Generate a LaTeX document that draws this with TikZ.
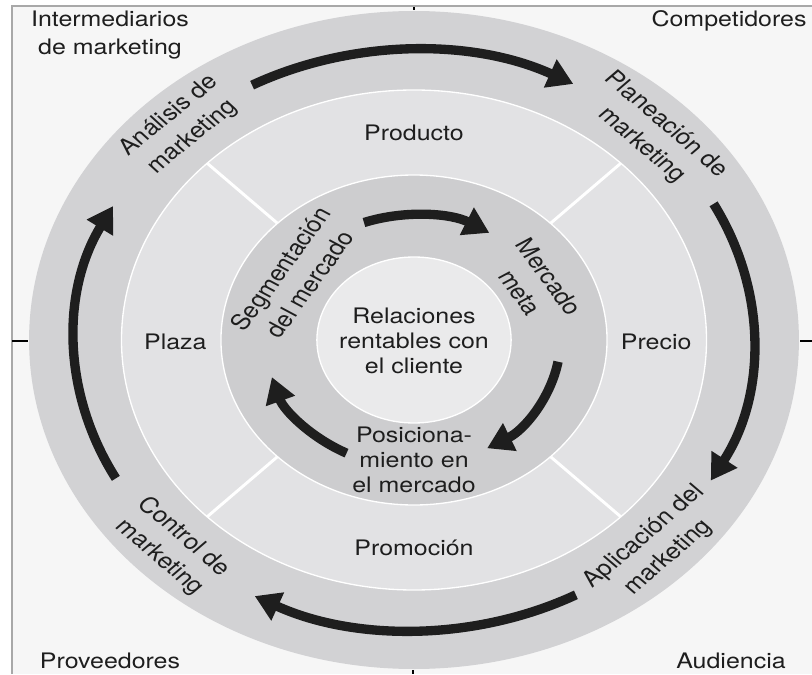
\documentclass[tikz,border=0pt]{standalone}
\usepackage{fontspec}
\setmainfont{TeX Gyre Heros}
\usepackage{tikz}
\usetikzlibrary{arrows.meta}

\definecolor{fondo}{HTML}{F6F6F6}
\definecolor{anillo}{HTML}{D2D2D4}
\definecolor{interior}{HTML}{CDCDCF}
\definecolor{banda}{HTML}{E2E2E4}
\definecolor{nucleo}{HTML}{EAEAEB}
\definecolor{marco}{HTML}{A8A8A8}
\definecolor{tinta}{HTML}{1E1E1E}

\tikzset{
  texto/.style={font=\fontsize{16}{19}\selectfont, align=center, text=tinta, inner sep=0pt},
  giro/.style={texto, font=\fontsize{16.5}{22}\selectfont},
  esquina/.style={texto, font=\fontsize{16}{21}\selectfont, xscale=1.17},
  flecha/.style={line width=7pt, tinta, -{Triangle[length=19pt,width=22pt]}},
  divisor/.style={white, line width=2.2pt},
  borde/.style={white, line width=1pt},
}

\begin{document}
\begin{tikzpicture}[x=0.75pt,y=0.75pt]
    \useasboundingbox (-414,340) rectangle (398,-334);
    \fill[fondo] (-402,334) rectangle (398,-334);
    \draw[marco, line width=1.2pt] (-402,-334) -- (-402,334) -- (398,334);
    % marcas de corte
    \draw[line width=1.4pt] (-402,-1) -- (-386,-1);
    \draw[line width=1.4pt] (386,-1) -- (398,-1);
    \draw[line width=1pt] (0,333) -- (0,330);
    \draw[line width=1pt] (-1,-330) -- (-1,-334);

    \node[esquina] (intermediarios) at (-304,304.5) {Intermediarios\\de marketing};
    \node[esquina, anchor=base] (competidores) at (315,313) {Competidores};
    \node[esquina, anchor=base] (proveedores) at (-304,-328) {Proveedores};
    \node[esquina, anchor=base] (audiencia) at (317,-328) {Audiencia};

    \begin{scope}[xscale=1.17, every node/.append style={transform shape}]
        \coordinate (O) at (0,0);

        \fill[anillo] (O) circle (329);
        \fill[banda] (O) circle (250);
        \draw[borde] (O) circle (250);
        \foreach \a in {45,135,225,315}
            \draw[divisor] (\a:165) -- (\a:250);
        \fill[interior] (O) circle (165);
        \draw[borde] (O) circle (165);
        \fill[nucleo] (O) circle (83);
        \draw[borde] (O) circle (83);

        % proceso de marketing
        \draw[flecha] (118.5:290) arc (118.5:62:290);
        \draw[flecha] (28:290) arc (28:-29:290);
        \draw[flecha] (-61.5:290) arc (-61.5:-118:290);
        \draw[flecha] (208.5:290) arc (208.5:152.5:290);

        \node[giro, rotate=43] (analisis) at (133:292) {Análisis de\\marketing};
        \node[giro, rotate=-45] (planeacion) at (45:290) {Planeación de\\marketing};
        \node[giro, rotate=45] (aplicacion) at (-45:293) {Aplicación del\\marketing};
        \node[giro, rotate=-45] (control) at (225:293) {Control de\\marketing};

        % mezcla de marketing
        \node[texto] (producto) at (0,207) {Producto};
        \node[texto] (precio) at (207,-2) {Precio};
        \node[texto] (promocion) at (0,-208) {Promoción};
        \node[texto] (plaza) at (-204,-2) {Plaza};

        % estrategia
        \draw[flecha] (110:125) arc (110:59:125);
        \draw[flecha] (-10:125) arc (-10:-60:125);
        \draw[flecha] (243:127) arc (243:197:127);

        \node[giro, rotate=58] (segmentacion) at (148:120) {Segmentación\\del mercado};
        \node[giro, rotate=-58] (meta) at (28.2:117) {Mercado\\meta};
        \node[texto] (posicionamiento) at (0,-120) {Posiciona-\\miento en\\el mercado};

        \node[texto] (relaciones) at (0,-1) {Relaciones\\rentables con\\el cliente};
    \end{scope}
\end{tikzpicture}
\end{document}
